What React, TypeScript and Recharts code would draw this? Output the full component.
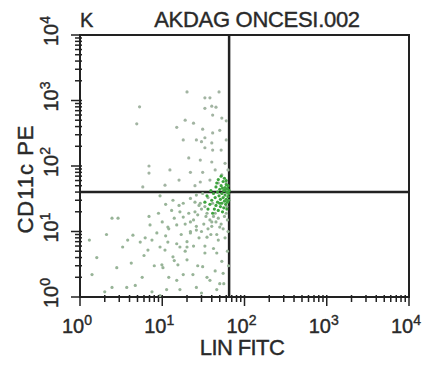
import React from 'react';
import { ScatterChart, Scatter, XAxis, YAxis, ReferenceLine, ReferenceArea } from 'recharts';

// log decades shown on both axes
const decadeTicks = [1, 10, 100, 1000, 10000];
const minorSteps = [2, 3, 4, 5, 6, 7, 8, 9];
const allTicks = decadeTicks.concat(
    decadeTicks.slice(0, 4).flatMap((d) => minorSteps.map((m) => d * m))
);

// quadrant gates
const fitcGate = 65;
const peGate = 40;

// events as [LIN FITC, CD11c PE]
const upperLeftEvents: [number, number][] = [
    [5.3, 800], [4.9, 440], [6.9, 100], [6.9, 78], [5.8, 48],
    [20, 1350], [33, 1100], [38, 1100], [49, 1350], [33, 760], [40, 820], [45, 790],
    [41, 600], [53, 540], [60, 490], [19, 500], [24, 450], [15, 390], [31, 365],
    [41, 320], [50, 350], [33, 270], [18, 250], [26, 250], [30, 235], [40, 225], [60, 250],
    [33, 190], [41, 175], [52, 175], [21, 133], [29, 123], [40, 115], [58, 110],
    [22, 80], [31, 80], [44, 87], [53, 73], [16, 61], [29, 57], [38, 61], [48, 55],
    [60, 55], [12.4, 87], [10.8, 51], [25, 50], [63, 87],
];

const clusterEvents: [number, number][] = [
    [48, 62], [55, 58], [60, 52], [52, 50], [58, 47], [62, 45], [45, 48], [50, 44],
    [56, 42], [61, 40], [64, 38], [47, 40], [53, 38], [58, 36], [63, 34], [42, 38],
    [49, 35], [55, 33], [60, 31], [44, 33], [51, 31], [57, 29], [62, 28], [40, 30],
    [47, 28], [53, 27], [59, 26], [38, 26], [45, 25], [51, 24], [56, 23], [61, 22],
    [43, 22], [48, 21], [54, 20], [36, 22], [41, 19], [58, 43], [54, 46], [63, 50],
    [46, 55], [57, 65], [52, 70], [60, 60], [39, 42], [35, 35], [33, 28], [65, 42],
    [64, 30], [50, 27],
];

const lowerLeftEvents: [number, number][] = [
    [2.45, 16], [2.9, 16], [6.9, 17], [7.1, 12.6], [3.8, 7.4], [4.4, 8.8], [5.4, 6.9],
    [6.2, 8], [6.7, 5.2], [9.4, 5.8], [9.9, 3.1], [10.2, 2.8], [15.5, 3.1], [16.4, 5.8],
    [20, 5.8], [31, 2.9], [33, 4.7], [46, 4.7], [55, 2.3], [2.8, 2.8], [5.7, 2.0],
    [2.45, 1.4], [3.7, 1.4], [4.7, 1.5], [11.7, 6.9], [11.7, 11.7], [15, 12.6], [18, 16.6],
    [22, 14], [26, 10.5], [25, 20], [18, 27], [13.5, 30], [16.4, 20], [29, 27], [35, 19],
    [40, 14], [50, 11.7], [48, 7.4], [35, 8.2], [22, 9.5], [8.6, 9.5], [7.5, 7.4],
    [10.8, 5.2], [13.5, 4.1], [20, 3.7], [23.6, 2.2], [38, 1.8], [50, 1.6], [16.4, 1.3],
    [11.3, 1.3], [9.4, 1.05], [1.3, 7.4],
    [30, 22], [34, 17], [38, 15], [42, 17], [27, 18], [32, 13], [36, 11], [45, 14],
    [28, 25], [24, 15], [21, 19], [40, 12], [33, 24], [25, 28], [44, 19], [48, 16],
    [52, 13], [57, 17], [62, 15], [60, 19], [55, 11], [46, 9], [39, 9], [30, 10],
    [26, 12], [22, 10], [19, 13], [17, 9], [14, 16], [12, 11], [10, 14], [9, 19],
    [20, 7], [24, 6], [28, 8], [33, 6], [42, 5.5], [58, 8], [62, 5], [53, 3.5],
    [44, 2.5], [35, 2], [27, 3], [18, 2.2], [14, 3.6], [8, 3], [6, 4.3], [4.2, 3.3],
    [3.3, 5.8], [2.1, 9], [1.6, 4], [1.4, 2.2], [2, 1.2], [7.5, 1.2], [12, 2], [15, 1.8],
    [26, 1.4], [30, 1.15], [46, 1.3], [56, 1.6], [64, 3], [63, 10], [61, 24], [19, 5],
    [15, 6.5], [11, 8.6], [13, 21], [16, 25], [22, 32], [26, 36], [31, 38], [36, 33],
    [41, 27], [9.4, 35], [11, 26],
];

const toPoints = (rows: [number, number][]) => rows.map(([fitc, pe]) => ({ fitc, pe }));

const FONT = '"Liberation Sans", Arial, sans-serif';
const INK = '#2a2a2a';
const textStyle = { fill: INK, fontFamily: FONT, stroke: INK, strokeWidth: 0.4 };

function XTick({ x, y, payload }: any) {
    const v = payload.value;
    const major = decadeTicks.includes(v);
    return (
        <g>
            <line x1={x} x2={x} y1={y - 2} y2={y + (major ? 9 : 5)} stroke="#222" strokeWidth={1.5} />
            {major && (
                <text x={x - 3} y={y + 36} textAnchor="middle" fontSize={20} style={textStyle}>
                    10<tspan dy={-8} fontSize={14}>{Math.round(Math.log10(v))}</tspan>
                </text>
            )}
        </g>
    );
}

function YTick({ x, y, payload }: any) {
    const v = payload.value;
    const major = decadeTicks.includes(v);
    return (
        <g>
            <line x1={x + 2} x2={x - (major ? 9 : 5)} y1={y} y2={y} stroke="#222" strokeWidth={1.5} />
            {major && (
                <g transform={`translate(${x - 22},${y}) rotate(-90)`}>
                    <text x={-11} y={0} textAnchor="start" fontSize={20} style={textStyle}>
                        10<tspan dy={-8} fontSize={14}>{Math.round(Math.log10(v))}</tspan>
                    </text>
                </g>
            )}
        </g>
    );
}

const dot = (color: string) => (props: any) => (
    <circle cx={props.cx} cy={props.cy} r={1.6} fill={color} />
);

export default function App() {
    return (
        <div style={{ position: 'absolute', left: 0, top: 0, width: 422, height: 367, background: '#fff' }}>
            <ScatterChart width={422} height={367} margin={{ top: 35, right: 13, bottom: 30, left: 30 }}>
                <XAxis
                    type="number" dataKey="fitc" scale="log" domain={[1, 10000]} allowDataOverflow
                    ticks={allTicks} interval={0} tick={<XTick />} tickSize={0} tickMargin={0} tickLine={false}
                    height={40} axisLine={{ stroke: '#222', strokeWidth: 2 }}
                />
                <YAxis
                    type="number" dataKey="pe" scale="log" domain={[1, 10000]} allowDataOverflow
                    ticks={allTicks} interval={0} tick={<YTick />} tickSize={0} tickMargin={0} tickLine={false}
                    width={50} axisLine={{ stroke: '#222', strokeWidth: 2 }}
                />
                <ReferenceArea x1={1} x2={10000} y1={1} y2={10000} fill="none" stroke="#222" strokeWidth={2} ifOverflow="visible" />
                <Scatter data={toPoints(lowerLeftEvents)} shape={dot('#98b498')} isAnimationActive={false} />
                <Scatter data={toPoints(upperLeftEvents)} shape={dot('#a2b4a2')} isAnimationActive={false} />
                <Scatter data={toPoints(clusterEvents)} shape={dot('#3fa43f')} isAnimationActive={false} />
                <ReferenceLine x={fitcGate} stroke="#222" strokeWidth={2.5} />
                <ReferenceLine y={peGate} stroke="#222" strokeWidth={2.5} />
            </ScatterChart>
            <svg width={422} height={367} style={{ position: 'absolute', left: 0, top: 0, pointerEvents: 'none' }}>
                <text x={80} y={27} fontSize={20} style={textStyle}>K</text>
                <text x={257} y={27} textAnchor="middle" fontSize={22} letterSpacing={-0.3} style={textStyle}>AKDAG ONCESI.002</text>
                <text x={242} y={355} textAnchor="middle" fontSize={22} letterSpacing={-0.6} style={textStyle}>LIN FITC</text>
                <text transform="translate(33,179) rotate(-90)" textAnchor="middle" fontSize={22} letterSpacing={1} style={textStyle}>CD11c PE</text>
            </svg>
        </div>
    );
}
